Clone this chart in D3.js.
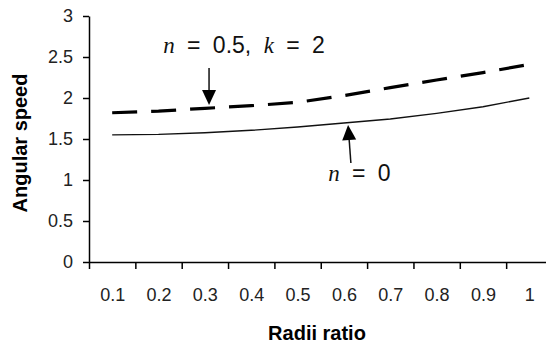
<!DOCTYPE html>
<html>
<head>
<meta charset="utf-8">
<script src="https://cdn.jsdelivr.net/npm/d3@7"></script>
<style>
  body { margin: 0; background: #fff; }
  svg { display: block; }
</style>
</head>
<body>
<svg id="chart" width="546" height="346"></svg>
<script>
// Data
const categories = ["0.1", "0.2", "0.3", "0.4", "0.5", "0.6", "0.7", "0.8", "0.9", "1"];
const seriesN0 = [1.55, 1.557, 1.577, 1.606, 1.646, 1.695, 1.744, 1.813, 1.894, 2.0];
const seriesN05K2 = [1.82, 1.84, 1.874, 1.906, 1.947, 2.03, 2.126, 2.22, 2.31, 2.41];
const yTicks = [0, 0.5, 1, 1.5, 2, 2.5, 3];

// Dimensions
const dimensions = {
    width: 546,
    height: 346,
    left: 89,
    top: 16,
    bottom: 262,
    step: 46.35,
};

const svg = d3.select("#chart");

// x is a category index scale, category i is centered at i + 0.5
const xScale = d3.scaleLinear()
    .domain([0, categories.length])
    .range([dimensions.left, dimensions.left + dimensions.step * categories.length]);

const yScale = d3.scaleLinear()
    .domain([0, 3])
    .range([dimensions.bottom, dimensions.top]);

const tickFont = "'Liberation Sans', Arial, sans-serif";

// Y axis
const yAxis = svg.append("g")
    .attr("transform", `translate(${dimensions.left},0)`)
    .call(d3.axisLeft(yScale).tickValues(yTicks).tickSize(6).tickSizeOuter(0).tickPadding(10).tickFormat(d3.format("")));
yAxis.select(".domain").attr("stroke", "#000").attr("stroke-width", 1.5);
yAxis.selectAll(".tick line").attr("stroke", "#000").attr("stroke-width", 1.5);
yAxis.selectAll("text")
    .attr("fill", "#222")
    .style("font-family", tickFont)
    .style("font-size", "18px");

// X axis: tick marks on category boundaries
const xAxis = svg.append("g")
    .attr("transform", `translate(0,${dimensions.bottom})`)
    .call(d3.axisBottom(xScale).tickValues(d3.range(0, categories.length + 1)).tickSize(7).tickSizeOuter(0).tickFormat(""));
xAxis.select(".domain").attr("stroke", "#000").attr("stroke-width", 1.5);
xAxis.selectAll(".tick line").attr("stroke", "#000").attr("stroke-width", 1.5);

// X labels centered in each category
const xLabels = svg.append("g")
    .attr("transform", `translate(0,${dimensions.bottom})`)
    .call(d3.axisBottom(xScale).tickValues(categories.map((c, i) => i + 0.5)).tickSize(0).tickPadding(26)
        .tickFormat((d, i) => categories[i]));
xLabels.select(".domain").remove();
xLabels.selectAll("text")
    .attr("fill", "#222")
    .style("font-family", tickFont)
    .style("font-size", "18px");

// Lines
const line = d3.line()
    .x((d, i) => xScale(i + 0.5))
    .y(d => yScale(d));

svg.append("path")
    .datum(seriesN0)
    .attr("d", line)
    .attr("fill", "none")
    .attr("stroke", "#111")
    .attr("stroke-width", 1.4);

svg.append("path")
    .datum(seriesN05K2)
    .attr("d", line)
    .attr("fill", "none")
    .attr("stroke", "#000")
    .attr("stroke-width", 3.2)
    .attr("stroke-dasharray", "25,14");

// Axis titles
svg.append("text")
    .attr("x", 317)
    .attr("y", 340)
    .attr("text-anchor", "middle")
    .style("font-family", "Arial, 'Liberation Sans', sans-serif")
    .style("font-weight", "bold")
    .style("font-size", "20px")
    .text("Radii ratio");

svg.append("text")
    .attr("transform", "translate(27,143) rotate(-90)")
    .attr("text-anchor", "middle")
    .style("font-family", "Arial, 'Liberation Sans', sans-serif")
    .style("font-weight", "bold")
    .style("font-size", "20px")
    .text("Angular speed");

// Annotations (in category index / value units)
const labels = [
    { parts: [["n", true], [" = 0.5, ", false], ["k", true], [" = 2", false]], x: 1.6, y: 2.55 },
    { parts: [["n", true], [" = 0", false]], x: 5.16, y: 0.988 },
];
const arrows = [
    { x1: 2.59, y1: 2.366, x2: 2.59, y2: 1.915 },
    { x1: 5.65, y1: 1.207, x2: 5.59, y2: 1.67 },
];

labels.forEach(l => {
    const t = svg.append("text")
        .attr("x", xScale(l.x))
        .attr("y", yScale(l.y))
        .style("font-size", "23px")
        .style("word-spacing", "6px")
        .style("white-space", "pre")
        .attr("fill", "#111");
    l.parts.forEach(([s, italic]) => {
        t.append("tspan")
            .style("font-family", italic ? "'Liberation Serif', 'Times New Roman', serif" : tickFont)
            .style("font-style", italic ? "italic" : "normal")
            .text(s);
    });
});

arrows.forEach(a => {
    const x1 = xScale(a.x1), y1 = yScale(a.y1), x2 = xScale(a.x2), y2 = yScale(a.y2);
    const ang = Math.atan2(y2 - y1, x2 - x1);
    const headLen = 15, headW = 7;
    const bx = x2 - headLen * Math.cos(ang), by = y2 - headLen * Math.sin(ang);
    svg.append("line")
        .attr("x1", x1).attr("y1", y1).attr("x2", bx).attr("y2", by)
        .attr("stroke", "#111")
        .attr("stroke-width", 1.5);
    const px = -Math.sin(ang) * headW, py = Math.cos(ang) * headW;
    svg.append("path")
        .attr("d", `M${x2},${y2}L${bx + px},${by + py}L${bx - px},${by - py}Z`)
        .attr("fill", "#000");
});
</script>
</body>
</html>
